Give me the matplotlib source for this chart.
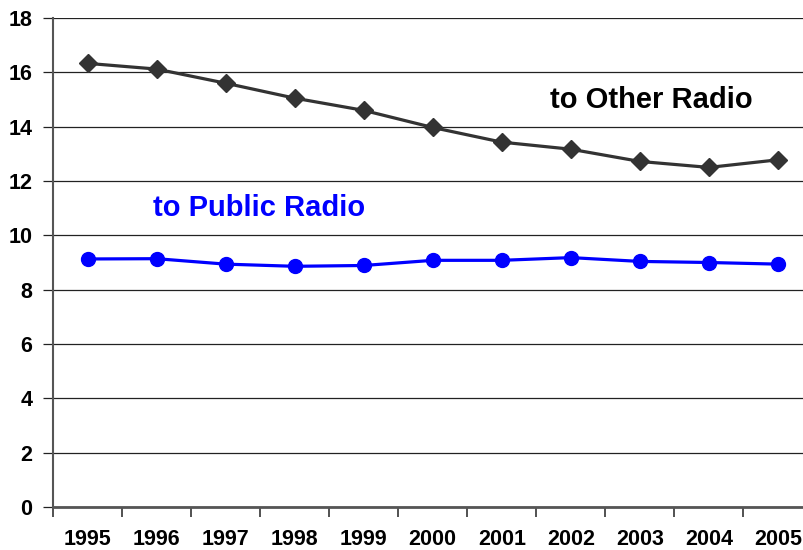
import numpy as np
import matplotlib
matplotlib.use("Agg")
import matplotlib.pyplot as plt

# Listening shares by year
years = ["1995", "1996", "1997", "1998", "1999", "2000",
         "2001", "2002", "2003", "2004", "2005"]
other_radio = [16.33, 16.12, 15.6, 15.05, 14.6, 13.97, 13.43, 13.17, 12.72, 12.5, 12.78]
public_radio = [9.13, 9.14, 8.94, 8.86, 8.89, 9.08, 9.08, 9.18, 9.04, 9.0, 8.94]

plt.rcParams['font.family'] = ['Liberation Sans', 'DejaVu Sans']

fig = plt.figure(figsize=(8.04, 5.5), dpi=100)
ax = fig.add_axes([53 / 804, 43 / 550, 759.5 / 804, 489 / 550])

x = np.arange(len(years))
ax.plot(x, other_radio, color='#333333', lw=2.3, marker='D', markersize=9,
        zorder=3, clip_on=False)
ax.plot(x, public_radio, color='#0000ff', lw=2.3, marker='o', markersize=10,
        zorder=3, clip_on=False)

ax.set_xlim(-0.5, len(years) - 0.5)
ax.set_ylim(0, 18)
ax.set_yticks(range(0, 19, 2))
ax.yaxis.grid(True, color='#222222', lw=0.9)
ax.set_axisbelow(True)

ax.set_xticks(x)
ax.set_xticklabels(years, fontsize=15.5, fontweight='bold')
ax.set_xticks(np.arange(-0.5, len(years)), minor=True)
ax.tick_params(axis='x', which='major', length=0, pad=16)
ax.tick_params(axis='x', which='minor', length=7, width=1.2, color='#333333')
ax.tick_params(axis='y', length=7, width=0.9, color='#222222',
               labelsize=15.5, pad=8)
for lbl in ax.get_yticklabels():
    lbl.set_fontweight('bold')

for side in ('top', 'right'):
    ax.spines[side].set_visible(False)
ax.spines['left'].set_color('#555555')
ax.spines['left'].set_linewidth(1.5)
ax.spines['bottom'].set_color('#555555')
ax.spines['bottom'].set_linewidth(2)

ax.text(8.17, 15.0, "to Other Radio", fontsize=21, fontweight='bold',
        color='black', ha='center', va='center')
ax.text(2.49, 11.0, "to Public Radio", fontsize=21, fontweight='bold',
        color='#0000ff', ha='center', va='center')

fig.savefig("out.png", dpi=100)
